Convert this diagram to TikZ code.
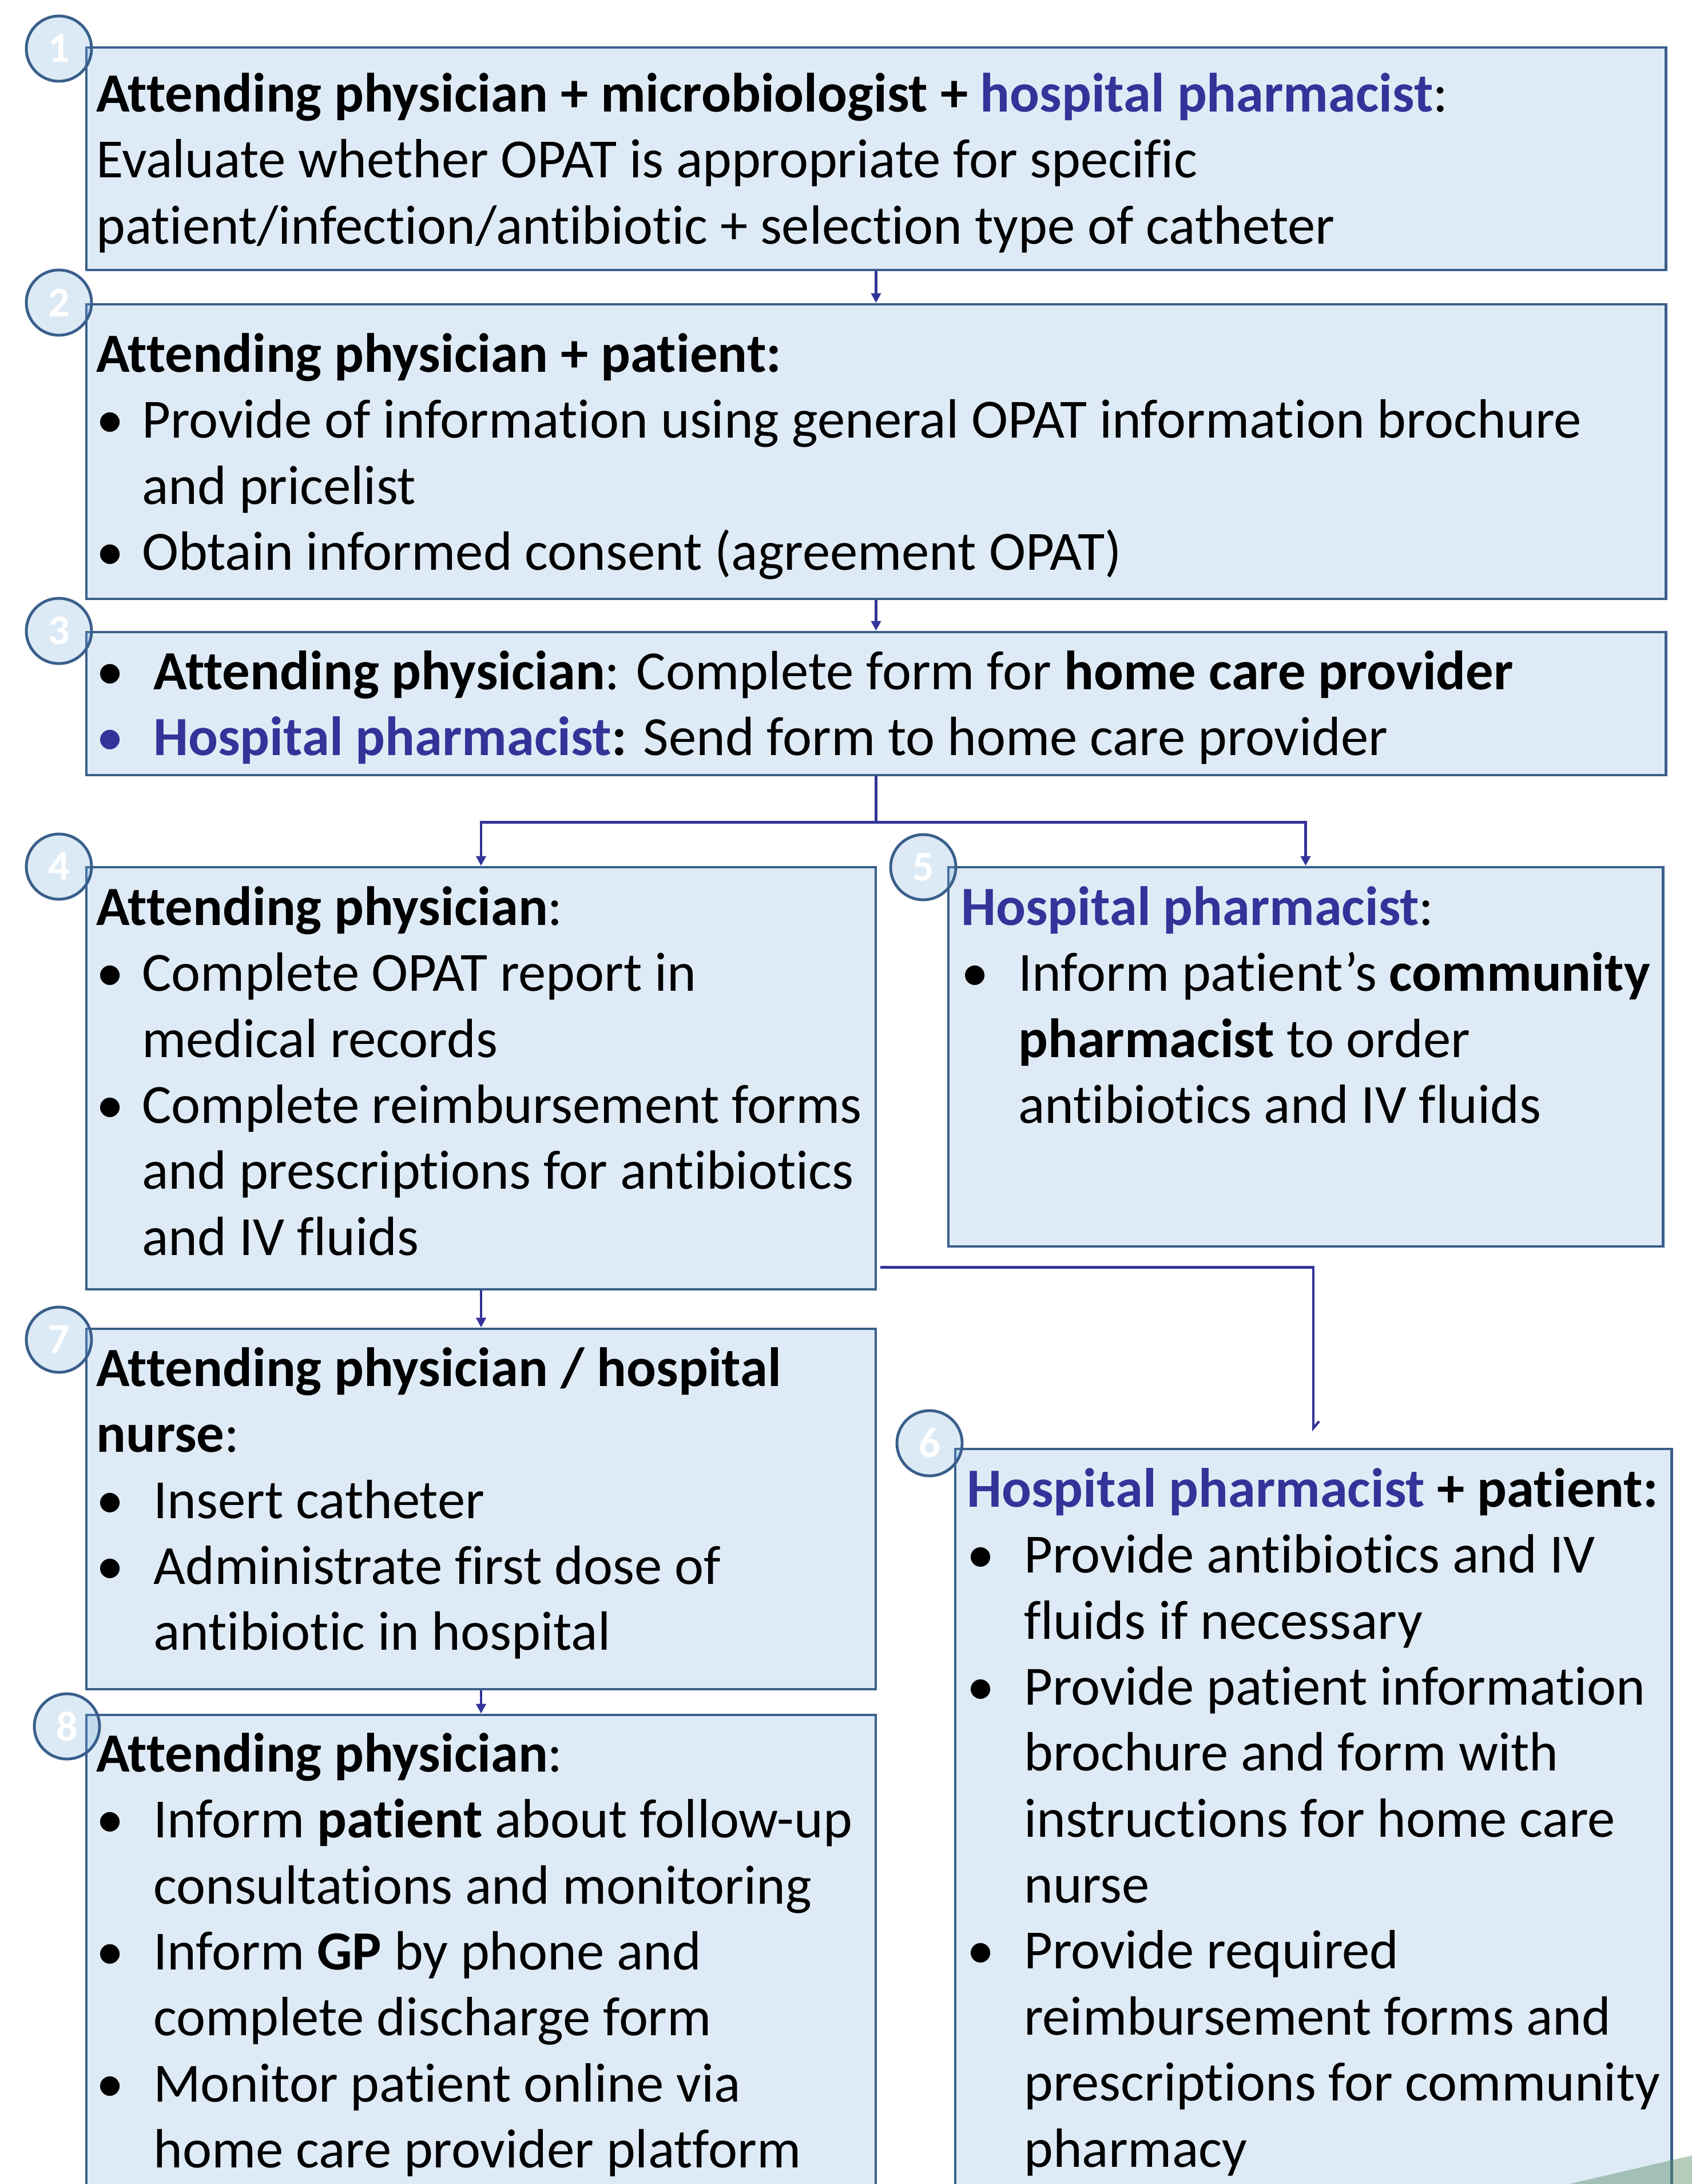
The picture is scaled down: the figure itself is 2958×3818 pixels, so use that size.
\documentclass[tikz,border=0pt]{standalone}
\usepackage{fontspec}
\setmainfont{Carlito}[Ligatures=NoCommon]
\usetikzlibrary{arrows.meta,fit}

\definecolor{boxline}{RGB}{58,95,139}
\definecolor{boxfill}{RGB}{222,235,246}
\definecolor{numfill}{RGB}{117,171,218}
\definecolor{navy}{RGB}{51,51,153}
\definecolor{leaf}{RGB}{92,141,105}

% lines of one box, first baseline on top
\newcommand{\boxlines}[1]{\begin{tabular}[t]{@{}l@{}}#1\end{tabular}}
\newcommand{\bul}[1][1cm]{\makebox[#1][l]{\textbullet}}
\newcommand{\ind}[1][1cm]{\hspace*{#1}}

\begin{document}
\begin{tikzpicture}[x=0.01cm,y=-0.01cm,
    box/.style={draw=boxline,line width=1.4pt,fill=boxfill,inner sep=0pt},
    num/.style={circle,draw=boxline,line width=1.4pt,fill=numfill,fill opacity=0.25,
      text opacity=1,text=white,minimum size=1.14cm,inner sep=0pt,
      font=\fontsize{21}{24}\selectfont\bfseries},
    txt/.style={anchor=base west,inner sep=0pt,font=\fontsize{27.5}{32.8}\selectfont},
    link/.style={draw=navy,line width=1.2pt},
    arr/.style={link,-{Triangle[length=0.17cm,width=0.17cm]}}]
  \path[use as bounding box] (0,0) rectangle (2958,3818);
  \clip (0,0) rectangle (2958,3818);

  % boxes
  \node[box,fit={(151,83) (2912,472)}] (b1) {};
  \node[box,fit={(151,532) (2912,1047)}] (b2) {};
  \node[box,fit={(151,1105) (2912,1355)}] (b3) {};
  \node[box,fit={(151,1516) (1531,2254)}] (b4) {};
  \node[box,fit={(1658,1516) (2907,2179)}] (b5) {};
  \node[box,fit={(151,2323) (1531,2953)}] (b7) {};
  \node[box,fit={(151,2998) (1531,3900)}] (b8) {};
  \node[box,fit={(1670,2533) (2922,3900)}] (b6) {};

  % connectors
  \draw[arr] (b1.south) -- (b2.north);
  \draw[arr] (b2.south) -- (b3.north);
  \draw[link] (b3.south) -- ++(0,80) coordinate (split);
  \draw[arr] (split) -| (b4.north);
  \draw[arr] (split) -| (b5.north);
  \draw[arr] (b4.south) -- (b7.north);
  \draw[arr] (b7.south) -- (b8.north);
  \draw[link,-{Straight Barb[left,length=0.12cm,width=0.2cm]}]
    ([shift={(6,-41)}]b4.south east) -| ([yshift=0.28cm]b6.north);

  % step numbers
  \node[num] (n1) at (103,85) {1};
  \node[num] (n2) at (103,529) {2};
  \node[num] (n3) at (103,1103) {3};
  \node[num] (n4) at (103,1515) {4};
  \node[num] (n5) at (1614,1516) {5};
  \node[num] (n6) at (1625,2523) {6};
  \node[num] (n7) at (103,2342) {7};
  \node[num] (n8) at (117,3018) {8};

  % texts
  \node[txt] (t1) at ([shift={(19,115)}]b1.north west) {\boxlines{%
    \textbf{Attending physician + microbiologist + \textcolor{navy}{hospital pharmacist}}:\\
    Evaluate whether OPAT is appropriate for specific\\
    patient/infection/antibiotic + selection type of catheter}};
  \node[txt] (t2) at ([shift={(19,121)}]b2.north west) {\boxlines{%
    \textbf{Attending physician + patient:}\\
    \bul[0.8cm]Provide of information using general OPAT information brochure\\
    \ind[0.8cm]and pricelist\\
    \bul[0.8cm]Obtain informed consent (agreement OPAT)}};
  \node[txt] (t3) at ([shift={(19,103)}]b3.north west) {\boxlines{%
    \bul\textbf{Attending physician}: Complete form for \textbf{home care provider}\\
    \textcolor{navy}{\bul}\textbf{\textcolor{navy}{Hospital pharmacist}:} Send form to home care provider}};
  \node[txt] (t4) at ([shift={(19,104)}]b4.north west) {\boxlines{%
    \textbf{Attending physician}:\\
    \bul[0.8cm]Complete OPAT report in\\
    \ind[0.8cm]medical records\\
    \bul[0.8cm]Complete reimbursement forms\\
    \ind[0.8cm]and prescriptions for antibiotics\\
    \ind[0.8cm]and IV fluids}};
  \node[txt] (t5) at ([shift={(24,104)}]b5.north west) {\boxlines{%
    \textbf{\textcolor{navy}{Hospital pharmacist}}:\\
    \bul Inform patient’s \textbf{community}\\
    \ind\textbf{pharmacist} to order\\
    \ind antibiotics and IV fluids}};
  \node[txt] (t7) at ([shift={(19,103)}]b7.north west) {\boxlines{%
    \textbf{Attending physician / hospital}\\
    \textbf{nurse}:\\
    \bul Insert catheter\\
    \bul Administrate first dose of\\
    \ind antibiotic in hospital}};
  \node[txt] (t8) at ([shift={(19,102)}]b8.north west) {\boxlines{%
    \textbf{Attending physician}:\\
    \bul Inform \textbf{patient} about follow-up\\
    \ind consultations and monitoring\\
    \bul Inform \textbf{GP} by phone and\\
    \ind complete discharge form\\
    \bul Monitor patient online via\\
    \ind home care provider platform}};
  \node[txt] (t6) at ([shift={(22,104)}]b6.north west) {\boxlines{%
    \textbf{\textcolor{navy}{Hospital pharmacist} + patient:}\\
    \bul Provide antibiotics and IV\\
    \ind fluids if necessary\\
    \bul Provide patient information\\
    \ind brochure and form with\\
    \ind instructions for home care\\
    \ind nurse\\
    \bul Provide required\\
    \ind reimbursement forms and\\
    \ind prescriptions for community\\
    \ind pharmacy}};

  % corner shape
  \fill[leaf,opacity=0.45] (2743,3818) -- (2958,3768) -- (2958,3818) -- cycle;
\end{tikzpicture}
\end{document}
